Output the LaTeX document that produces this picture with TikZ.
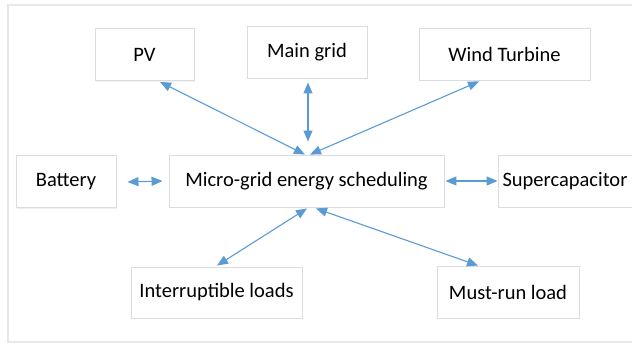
\documentclass[tikz,border=0pt]{standalone}
\usepackage{fontspec}
\setmainfont{Carlito}
\usetikzlibrary{arrows.meta,shadows}
\definecolor{arrowblue}{HTML}{5B9BD5}
\definecolor{boxline}{HTML}{DCDCDC}
\definecolor{frameline}{HTML}{E8E8E8}
\begin{document}
\begin{tikzpicture}[x=1pt,y=-1pt,
  blockbox/.style={draw=boxline, line width=0.9pt, fill=white, inner sep=0pt,
    minimum height=52pt, font=\fontsize{20.5}{24}\selectfont, text=black,
    drop shadow={opacity=0.12, shadow xshift=1.2pt, shadow yshift=-1.2pt}},
  link/.style={draw=arrowblue, line width=1.1pt,
    {Triangle[length=11pt,width=9pt]}-{Triangle[length=11pt,width=9pt]}}]
\useasboundingbox (0,0) rectangle (632,344);
\begin{scope}
\clip (0,0) rectangle (632,344);
\draw[frameline, line width=1.6pt] (8,5) rectangle (660,342);
\node[blockbox, minimum width=99pt] (pv) at (144.5,54.5) {PV};
\node[blockbox, minimum width=120pt] (mg) at (307,52) {Main grid};
\node[blockbox, minimum width=171pt] (wt) at (504.5,54) {Wind Turbine};
\node[blockbox, minimum width=100pt] (bat) at (66,181.5) {Battery};
\node[blockbox, minimum width=275pt] (mgs) at (306.5,181) {Micro-grid energy scheduling};
\node[blockbox, minimum width=134pt] (sc) at (565,181) {Supercapacitor};
\node[blockbox, minimum width=171pt, minimum height=51pt] (il) at (216.5,292.5) {Interruptible loads};
\node[blockbox, minimum width=142pt] (mr) at (508,292) {Must-run load};
\end{scope}
\draw[link] ([xshift=15.5pt,yshift=-1pt]pv.south) -- ([xshift=-1.5pt]mgs.north);
\draw[link] ([xshift=1pt,yshift=-4pt]mg.south) -- ([xshift=1.5pt,yshift=13pt]mgs.north);
\draw[link] ([xshift=-25.5pt,yshift=-1pt]wt.south) -- ([xshift=3.5pt]mgs.north);
\draw[link] ([xshift=11pt,yshift=-0.5pt]bat.east) -- ([xshift=-6pt]mgs.west);
\draw[link] ([xshift=1pt]mgs.east) -- (sc.west);
\draw[link] ([xshift=0.5pt,yshift=1pt]il.north) -- ([xshift=0.5pt,yshift=-1pt]mgs.south);
\draw[link] ([xshift=9.5pt,yshift=-1pt]mgs.south) -- ([xshift=-30pt]mr.north);
\end{tikzpicture}
\end{document}
